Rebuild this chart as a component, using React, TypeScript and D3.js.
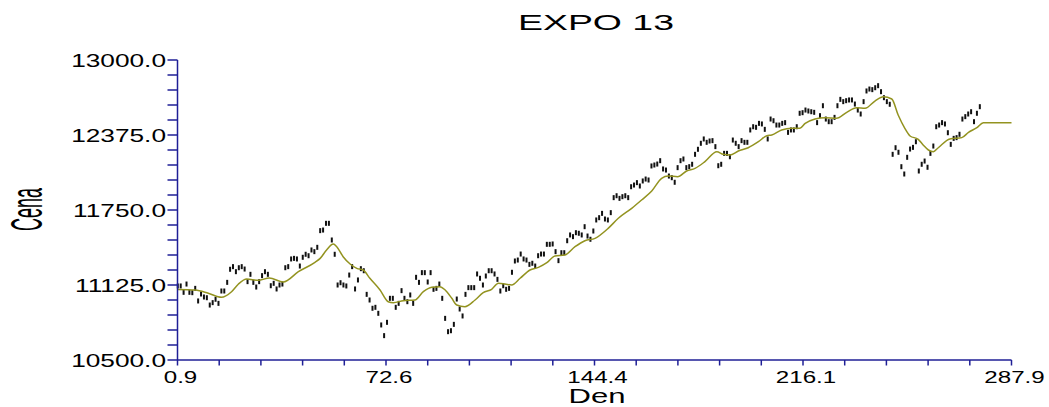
import React from "react";
import * as d3 from "d3";

// Daily closing prices, day 1 .. day 277
const prices: number[] = [
  11117, 11117, 11064, 11133, 11064, 11061, 11097, 10992, 11050, 11025,
  11019, 10958, 10978, 11006, 10972, 11075, 11075, 11147, 11256, 11278,
  11236, 11269, 11278, 11258, 11153, 11214, 11147, 11108, 11153, 11203,
  11236, 11214, 11119, 11139, 11092, 11125, 11133, 11269, 11278, 11342,
  11347, 11342, 11283, 11356, 11381, 11369, 11417, 11403, 11439, 11578,
  11583, 11639, 11639, 11500, 11381, 11125, 11144, 11125, 11117, 11208,
  11278, 11092, 11167, 11261, 11244, 11047, 11000, 10931, 10939, 10889,
  10792, 10703, 10814, 11014, 11014, 10939, 10972, 11078, 11014, 10986,
  11042, 10972, 11189, 11147, 11228, 11228, 11150, 11228, 11089, 11097,
  11133, 11014, 10847, 10736, 10744, 10797, 11008, 10925, 10867, 11047,
  11103, 11103, 11103, 11217, 11181, 11125, 11200, 11244, 11244, 11217,
  11172, 11075, 11119, 11089, 11097, 11231, 11325, 11333, 11383, 11342,
  11333, 11297, 11306, 11283, 11369, 11383, 11383, 11464, 11464, 11467,
  11403, 11328, 11394, 11394, 11494, 11542, 11528, 11561, 11556, 11542,
  11611, 11533, 11506, 11575, 11667, 11686, 11722, 11675, 11667, 11728,
  11853, 11869, 11847, 11861, 11869, 11853, 11944, 11958, 11978, 11950,
  11992, 12008, 12000, 12117, 12125, 12133, 12161, 12092, 12083, 12033,
  12019, 11981, 12103, 12161, 12175, 12103, 12111, 12131, 12214, 12256,
  12306, 12342, 12314, 12325, 12328, 12278, 12119, 12131, 12222, 12222,
  12194, 12333, 12306, 12278, 12328, 12314, 12314, 12417, 12444, 12439,
  12472, 12467, 12422, 12342, 12508, 12494, 12458, 12458, 12472, 12478,
  12397, 12417, 12417, 12444, 12556, 12561, 12583, 12575, 12569, 12564,
  12478, 12536, 12619, 12508, 12486, 12486, 12522, 12619, 12672, 12653,
  12661, 12667, 12667, 12633, 12583, 12550, 12653, 12742, 12758, 12753,
  12769, 12786, 12736, 12686, 12653, 12631, 12214, 12269, 12231, 12111,
  12050, 12189, 12258, 12272, 12319, 12075, 12131, 12158, 12106, 12222,
  12283, 12444, 12458, 12478, 12467, 12394, 12297, 12347, 12353, 12381,
  12508, 12528, 12550, 12569, 12486, 12556, 12611,
];
const firstDay = 1;

// Exponentially smoothed curve (with flat forecast at the end)
const smoothDays: number[] = [
  1, 7, 11.5, 16, 19.5, 21.8, 24.7, 28.7, 32.5, 37.3, 42.5, 48.2, 50, 52.2,
  54.5, 55.7, 57.9, 60.3, 62.6, 64.8, 67.1, 70.6, 73.4, 75.2, 78.6, 82.6,
  85.5, 88.4, 91.2, 93, 95.3, 97, 99.8, 103.3, 106.1, 109, 111.3, 113.6,
  115.9, 118.8, 122.2, 125.1, 128, 130.8, 134.2, 137.7, 141.1, 144.6, 149.1,
  152.6, 157.2, 160.6, 164.1, 167.5, 169.8, 173, 176.1, 179, 182.4, 186.5,
  188.7, 191, 193.9, 197.3, 200.8, 203.7, 205.4, 208.8, 212.3, 215.1, 216.9,
  220.3, 223.7, 227.7, 231.2, 234.6, 237.5, 240.9, 243.8, 246.7, 248.9,
  251.2, 253, 255.8, 257.5, 259.3, 261, 262.7, 266.7, 270.8, 273.1, 276,
  278.2, 287.9,
];
const smoothValues: number[] = [
  11088, 11083, 11056, 11022, 11069, 11131, 11175, 11164, 11184, 11150,
  11236, 11314, 11347, 11417, 11466, 11444, 11361, 11300, 11264, 11250,
  11181, 11083, 10986, 10978, 10994, 11000, 11069, 11106, 11111, 11083,
  11014, 10958, 10944, 11000, 11061, 11089, 11139, 11133, 11125, 11181,
  11250, 11272, 11311, 11367, 11375, 11444, 11494, 11514, 11597, 11681,
  11764, 11833, 11908, 12014, 12033, 12028, 12075, 12097, 12153, 12236,
  12214, 12208, 12242, 12269, 12319, 12369, 12375, 12417, 12431, 12431,
  12472, 12508, 12519, 12514, 12564, 12603, 12597, 12658, 12694, 12675,
  12542, 12431, 12367, 12339, 12292, 12250, 12236, 12269, 12342, 12353,
  12397, 12436, 12478, 12478,
];

// Axis ticks
const xMajorTicks: number[] = [0.9, 72.65, 144.4, 216.15, 287.9];
const xMajorLabels: string[] = ["0.9", "72.6", "144.4", "216.1", "287.9"];
const yMajorTicks: number[] = [10500, 11125, 11750, 12375, 13000];
const yMajorLabels: string[] = ["10500.0", "11125.0", "11750.0", "12375.0", "13000.0"];
const minorPerMajor = 5;

const titleText = "EXPO 13";
const xTitle = "Den";
const yTitle = "Cena";

const W = 1049;
const H = 407;
const FONT = "'Liberation Sans', Arial, Helvetica, sans-serif";
const AXIS = "#1f1f96";
const LINE = "#939320";

export default function App() {
  const x = d3.scaleLinear().domain([0.9, 287.9]).range([177.5, 1011.5]);
  const y = d3.scaleLinear().domain([10500, 13000]).range([360, 60]);

  const xMinor: number[] = [];
  for (let i = 0; i < xMajorTicks.length - 1; i++) {
    const a = xMajorTicks[i];
    const b = xMajorTicks[i + 1];
    for (let k = 0; k < minorPerMajor; k++) xMinor.push(a + ((b - a) * k) / minorPerMajor);
  }
  xMinor.push(xMajorTicks[xMajorTicks.length - 1]);

  const yMinor: number[] = [];
  for (let i = 0; i < yMajorTicks.length - 1; i++) {
    const a = yMajorTicks[i];
    const b = yMajorTicks[i + 1];
    for (let k = 0; k < minorPerMajor; k++) yMinor.push(a + ((b - a) * k) / minorPerMajor);
  }
  yMinor.push(yMajorTicks[yMajorTicks.length - 1]);

  const smoothPts: [number, number][] = smoothDays.map((d, i) => [d, smoothValues[i]]);
  const linePath =
    d3
      .line<[number, number]>()
      .x((p) => x(p[0]))
      .y((p) => y(p[1]))
      .curve(d3.curveMonotoneX)(smoothPts) || "";

  return (
    <div style={{ position: "absolute", left: 0, top: 0 }}>
      <svg width={W} height={H} style={{ display: "block", background: "#fff" }}>
        {/* title */}
        <text
          x={596}
          y={30}
          fontFamily={FONT}
          fontSize={22.5}
          textAnchor="middle"
          textLength={156}
          lengthAdjust="spacingAndGlyphs"
          fill="#000"
        >
          {titleText}
        </text>

        {/* price marks */}
        <g fill="#111">
          {prices.map((v, i) => (
            <rect key={i} x={x(firstDay + i) - 1} y={y(v) - 2.5} width={2} height={5} />
          ))}
        </g>

        {/* smoothed curve */}
        <path d={linePath} fill="none" stroke={LINE} strokeWidth={1.5} />

        {/* y axis */}
        <g stroke={AXIS} strokeWidth={1.5}>
          <line x1={x(0.9)} x2={x(0.9)} y1={y(13000)} y2={y(10500)} />
          {yMinor.map((t, i) => (
            <line key={i} x1={167.5} x2={x(0.9)} y1={y(t)} y2={y(t)} />
          ))}
        </g>
        {yMajorTicks.map((t, i) => (
          <text
            key={i}
            transform={`translate(166,${y(t) + 6.5}) scale(1.5,1)`}
            fontFamily={FONT}
            fontSize={17.5}
            textAnchor="end"
            fill="#000"
          >
            {yMajorLabels[i]}
          </text>
        ))}

        {/* x axis */}
        <g stroke={AXIS} strokeWidth={1.5}>
          <line x1={x(0.9)} x2={x(287.9)} y1={y(10500)} y2={y(10500)} />
          {xMinor.map((t, i) => (
            <line key={i} x1={x(t)} x2={x(t)} y1={y(10500)} y2={y(10500) + 5.5} />
          ))}
        </g>
        {xMajorTicks.map((t, i) => (
          <text
            key={i}
            transform={`translate(${x(t) + 3},383) scale(1.42,1)`}
            fontFamily={FONT}
            fontSize={17}
            textAnchor="middle"
            fill="#000"
          >
            {xMajorLabels[i]}
          </text>
        ))}

        {/* axis titles */}
        <text
          x={597}
          y={402.5}
          fontFamily={FONT}
          fontSize={20}
          textAnchor="middle"
          textLength={57}
          lengthAdjust="spacingAndGlyphs"
          fill="#000"
        >
          {xTitle}
        </text>
        <text
          transform="translate(42,209.5) rotate(-90)"
          fontFamily={FONT}
          fontSize={44}
          textAnchor="middle"
          textLength={43}
          lengthAdjust="spacingAndGlyphs"
          fill="#000"
        >
          {yTitle}
        </text>
      </svg>
    </div>
  );
}
